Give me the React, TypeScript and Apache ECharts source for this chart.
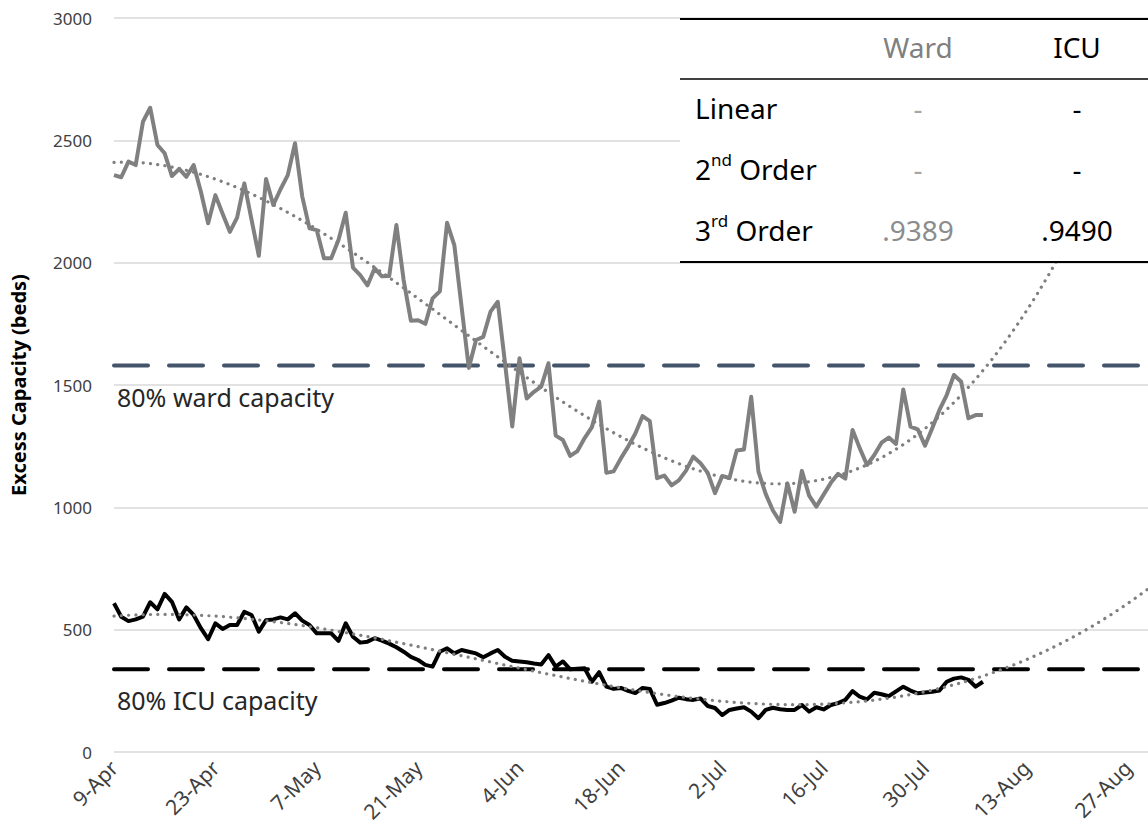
import React, { useEffect, useRef } from "react";
import * as echarts from "echarts";

// ---------- data ----------
const tickLabels = ["9-Apr", "23-Apr", "7-May", "21-May", "4-Jun", "18-Jun", "2-Jul", "16-Jul", "30-Jul", "13-Aug", "27-Aug"];
const tickStepDays = 14;

// daily excess capacity from 9-Apr (day 0)
const wardExcess = [
  2358, 2349, 2413, 2399, 2576, 2633, 2481, 2447, 2354, 2383,
  2351, 2399, 2290, 2161, 2276, 2200, 2126, 2184, 2324, 2175,
  2028, 2342, 2236, 2300, 2358, 2488, 2270, 2140, 2133, 2018,
  2018, 2093, 2204, 1980, 1949, 1907, 1977, 1944, 1945, 2154,
  1929, 1763, 1765, 1750, 1854, 1883, 2163, 2072, 1820, 1570,
  1684, 1697, 1800, 1840, 1590, 1330, 1609, 1445, 1472, 1493,
  1589, 1293, 1275, 1210, 1230, 1283, 1328, 1432, 1141, 1147,
  1200, 1248, 1302, 1373, 1352, 1119, 1130, 1090, 1110, 1150,
  1207, 1180, 1141, 1058, 1128, 1120, 1232, 1236, 1452, 1146,
  1055, 987, 940, 1098, 982, 1149, 1048, 1003, 1052, 1100,
  1137, 1117, 1316, 1241, 1173, 1214, 1264, 1285, 1259, 1482,
  1330, 1319, 1252, 1323, 1398, 1459, 1541, 1513, 1364, 1377,
  1377,
];

const icuExcess = [
  608, 553, 535, 542, 553, 612, 583, 646, 614, 542,
  591, 560, 506, 461, 526, 503, 519, 519, 573, 560,
  492, 539, 542, 550, 542, 567, 537, 519, 485, 485,
  485, 454, 526, 471, 447, 451, 465, 455, 443, 428,
  410, 389, 376, 356, 349, 410, 424, 403, 417, 410,
  403, 387, 403, 417, 389, 373, 370, 367, 362, 358,
  396, 349, 370, 338, 340, 342, 287, 326, 267, 258,
  262, 250, 241, 262, 258, 193, 200, 210, 222, 216,
  213, 219, 188, 180, 151, 172, 178, 183, 165, 138,
  172, 181, 175, 172, 172, 192, 165, 183, 174, 192,
  200, 213, 249, 226, 215, 242, 236, 228, 248, 267,
  251, 240, 243, 246, 251, 287, 300, 305, 295, 267,
  287,
];

const wardCapacity80 = 1580;
const icuCapacity80 = 338;

const tableHeaders = ["Ward", "ICU"];
const tableRowMain = ["Linear", "2", "3"];
const tableRowSup = ["", "nd", "rd"];
const tableRowTail = ["", " Order", " Order"];
const tableWard = ["-", "-", ".9389"];
const tableIcu = ["-", "-", ".9490"];

// ---------- helpers ----------
const X_MAX = 142.8;
const FONT = "'Noto Sans', 'DejaVu Sans', sans-serif";

function cubicFit(ys: number[]) {
  const S = new Array(7).fill(0);
  const T = new Array(4).fill(0);
  for (let i = 0; i < ys.length; i++) {
    const t = i / 100;
    let p = 1;
    for (let k = 0; k < 7; k++) {
      S[k] += p;
      if (k < 4) T[k] += p * ys[i];
      p *= t;
    }
  }
  const A = [0, 1, 2, 3].map((r) => [S[r], S[r + 1], S[r + 2], S[r + 3], T[r]]);
  for (let c = 0; c < 4; c++) {
    let piv = c;
    for (let r = c + 1; r < 4; r++) if (Math.abs(A[r][c]) > Math.abs(A[piv][c])) piv = r;
    const tmp = A[c]; A[c] = A[piv]; A[piv] = tmp;
    for (let r = 0; r < 4; r++) {
      if (r === c) continue;
      const f = A[r][c] / A[c][c];
      for (let k = c; k < 5; k++) A[r][k] -= f * A[c][k];
    }
  }
  const coef = A.map((row, i) => row[4] / row[i]);
  return (x: number) => {
    const t = x / 100;
    return coef[0] + coef[1] * t + coef[2] * t * t + coef[3] * t * t * t;
  };
}

function trendData(ys: number[]) {
  const f = cubicFit(ys);
  const out: number[][] = [];
  for (let x = 0; x <= X_MAX; x += 0.5) out.push([x, f(x)]);
  out.push([X_MAX, f(X_MAX)]);
  return out;
}

export default function App() {
  const ref = useRef<HTMLDivElement>(null);

  useEffect(() => {
    if (!ref.current) return;
    const chart = echarts.init(ref.current, undefined, { renderer: "svg" });

    const tableLeft = 680;
    const tableRight = 1148;
    const colWard = 918;
    const colIcu = 1077;
    const rowY = [108, 169, 230];
    const tableFont = 28;

    const graphics: any[] = [
      { type: "rect", shape: { x: tableLeft, y: 18, width: tableRight - tableLeft, height: 244 }, style: { fill: "#ffffff" }, z: 100 },
      { type: "line", shape: { x1: tableLeft, y1: 19, x2: tableRight, y2: 19 }, style: { stroke: "#000000", lineWidth: 2 }, z: 101 },
      { type: "line", shape: { x1: tableLeft, y1: 79, x2: tableRight, y2: 79 }, style: { stroke: "#404040", lineWidth: 2 }, z: 101 },
      { type: "line", shape: { x1: tableLeft, y1: 262, x2: tableRight, y2: 262 }, style: { stroke: "#000000", lineWidth: 2 }, z: 101 },
      { type: "text", x: colWard, y: 47, style: { text: tableHeaders[0], fontSize: tableFont, fontFamily: FONT, fill: "#808080", textAlign: "center", textVerticalAlign: "middle" }, z: 102 },
      { type: "text", x: colIcu, y: 47, style: { text: tableHeaders[1], fontSize: tableFont, fontFamily: FONT, fill: "#000000", textAlign: "center", textVerticalAlign: "middle" }, z: 102 },
      { type: "text", x: 117, y: 397, style: { text: "80% ward capacity", fontSize: 25, fontFamily: FONT, fill: "#262626", textAlign: "left", textVerticalAlign: "middle" }, z: 50 },
      { type: "text", x: 117, y: 700, style: { text: "80% ICU capacity", fontSize: 25, fontFamily: FONT, fill: "#262626", textAlign: "left", textVerticalAlign: "middle" }, z: 50 },
    ];

    tableRowMain.forEach((main, i) => {
      const sup = tableRowSup[i];
      const text = sup ? `{a|${main}}{s|${sup}}{a|${tableRowTail[i]}}` : `{a|${main}}`;
      graphics.push({
        type: "text",
        x: 695,
        y: rowY[i],
        style: {
          text,
          textAlign: "left",
          textVerticalAlign: "middle",
          rich: {
            a: { fontSize: tableFont, fontFamily: FONT, fill: "#000000", lineHeight: 36 },
            s: { fontSize: 17, fontFamily: FONT, fill: "#000000", verticalAlign: "top", lineHeight: 20 },
          },
        },
        z: 102,
      });
      graphics.push({
        type: "text", x: colWard, y: rowY[i],
        style: { text: tableWard[i], fontSize: tableFont, fontFamily: FONT, fill: tableWard[i] === "-" ? "#a6a6a6" : "#8c8c8c", textAlign: "center", textVerticalAlign: "middle" },
        z: 102,
      });
      graphics.push({
        type: "text", x: colIcu, y: rowY[i],
        style: { text: tableIcu[i], fontSize: tableFont, fontFamily: FONT, fill: "#000000", textAlign: "center", textVerticalAlign: "middle" },
        z: 102,
      });
    });

    const option: any = {
      animation: false,
      backgroundColor: "#ffffff",
      grid: { left: 108, right: 0, top: 18, bottom: 79, containLabel: false },
      xAxis: {
        type: "value",
        min: 0,
        max: X_MAX,
        interval: tickStepDays,
        axisLine: { show: false },
        axisTick: { show: false },
        splitLine: { show: false },
        axisLabel: {
          rotate: 45,
          margin: 12,
          fontSize: 21,
          fontFamily: FONT,
          color: "#404040",
          showMaxLabel: false,
          formatter: (v: number) => {
            if (Math.abs(v % tickStepDays) > 1e-6) return "";
            return tickLabels[Math.round(v / tickStepDays)] ?? "";
          },
        },
      },
      yAxis: {
        type: "value",
        min: 0,
        max: 3000,
        interval: 500,
        name: "Excess Capacity (beds)",
        nameLocation: "middle",
        nameGap: 86,
        nameTextStyle: { fontSize: 20, fontWeight: "bold", fontFamily: FONT, color: "#000000" },
        axisLine: { show: false },
        axisTick: { show: false },
        axisLabel: { fontSize: 17, fontFamily: FONT, color: "#404040", margin: 22, formatter: (v: number) => String(v) },
        splitLine: { lineStyle: { color: "#d9d9d9", width: 1.5 } },
      },
      series: [
        {
          name: "80% ward capacity",
          type: "line",
          symbol: "none",
          data: [[0, wardCapacity80], [X_MAX, wardCapacity80]],
          lineStyle: { color: "#44546a", width: 4, type: [34, 21], cap: "round" },
          z: 2,
        },
        {
          name: "80% ICU capacity",
          type: "line",
          symbol: "none",
          data: [[0, icuCapacity80], [X_MAX, icuCapacity80]],
          lineStyle: { color: "#000000", width: 4, type: [34, 21], cap: "round" },
          z: 2,
        },
        {
          name: "Ward",
          type: "line",
          symbol: "none",
          data: wardExcess.map((v, i) => [i, v]),
          lineStyle: { color: "#808080", width: 4, join: "round" },
          z: 3,
        },
        {
          name: "ICU",
          type: "line",
          symbol: "none",
          data: icuExcess.map((v, i) => [i, v]),
          lineStyle: { color: "#000000", width: 4, join: "round" },
          z: 3,
        },
        {
          name: "Ward trend",
          type: "line",
          symbol: "none",
          data: trendData(wardExcess),
          lineStyle: { color: "#7f7f7f", width: 3.2, type: [0.1, 7.2], cap: "round" },
          z: 4,
        },
        {
          name: "ICU trend",
          type: "line",
          symbol: "none",
          data: trendData(icuExcess),
          lineStyle: { color: "#7f7f7f", width: 3.2, type: [0.1, 7.2], cap: "round" },
          z: 4,
        },
      ],
      graphic: graphics,
    };

    chart.setOption(option);
    return () => chart.dispose();
  }, []);

  return (
    <div
      ref={ref}
      style={{ position: "fixed", left: 0, top: 0, width: 1148, height: 831, background: "#ffffff" }}
    />
  );
}
